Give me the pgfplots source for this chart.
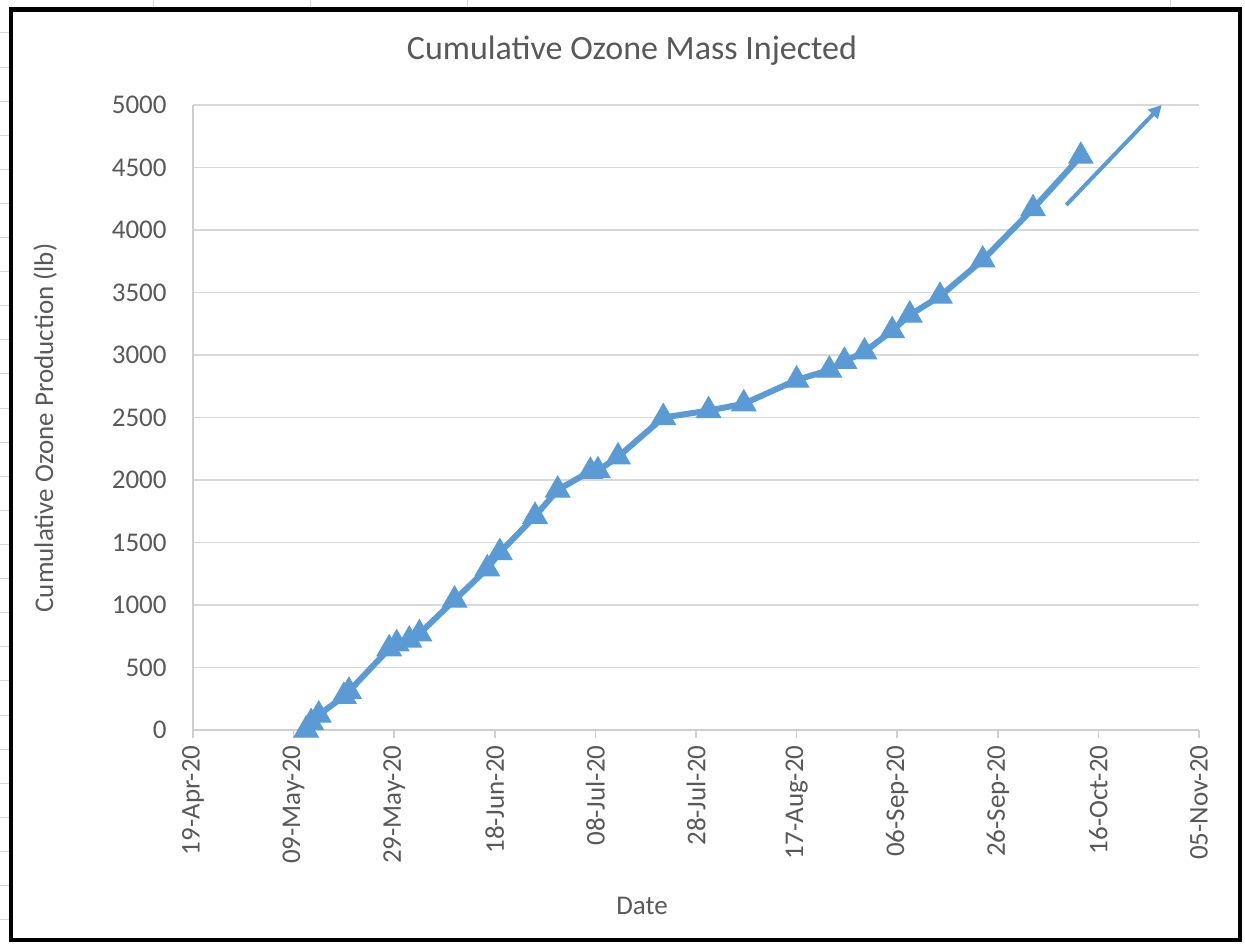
\documentclass[border=0pt]{standalone}
\usepackage{pgfplots}
\pgfplotsset{compat=1.18}
\usepackage{fontspec}
\setmainfont{Carlito}
\usetikzlibrary{arrows.meta}
\definecolor{xlblue}{HTML}{5B9BD5}
\definecolor{xltext}{HTML}{595959}
\definecolor{xlgrid}{HTML}{D9D9D9}
\definecolor{xlaxis}{HTML}{CFCFCF}
\definecolor{sheet}{HTML}{D6D6D6}
\begin{document}
\begin{tikzpicture}
\useasboundingbox (0pt,0pt) rectangle (622.5pt,471.5pt);
% spreadsheet cells outside the chart
\foreach \k in {0,...,26} {\draw[sheet, line width=0.5pt] (0pt,{(943-33-34.1*\k)/2*1pt}) -- (4.5pt,{(943-33-34.1*\k)/2*1pt});}
\foreach \xx in {76.5,155,233.5,585} {\draw[sheet, line width=0.5pt] (\xx pt,471.5pt) -- (\xx pt,466pt);}
% chart frame
\draw[black, line width=2.3pt] (5.4pt,1.6pt) rectangle (620pt,466.6pt);
\begin{axis}[
  at={(96.5pt,106.5pt)}, anchor=south west,
  scale only axis, width=503pt, height=312.5pt,
  xmin=0, xmax=200, ymin=0, ymax=5000,
  xtick={0,20,...,200},
  xticklabels={19-Apr-20,09-May-20,29-May-20,18-Jun-20,08-Jul-20,28-Jul-20,17-Aug-20,06-Sep-20,26-Sep-20,16-Oct-20,05-Nov-20},
  ytick={0,500,...,5000},
  axis x line*=bottom, axis y line*=left,
  axis line style={-, draw=xlaxis, line width=0.75pt},
  tick align=outside, major tick length=4pt,
  xtick style={draw=xlaxis, line width=0.75pt},
  ytick style={draw=none},
  ymajorgrids, major grid style={draw=xlgrid, line width=0.75pt},
  /pgf/number format/assume math mode=true,
  /pgf/number format/1000 sep={},
  ticklabel style={font=\fontsize{13.5}{16}\selectfont, text=xltext, inner sep=0pt},
  xticklabel style={rotate=90, anchor=east},
  xticklabel shift=3.5pt,
  yticklabel style={anchor=east},
  yticklabel shift=9pt,
  clip=false,
]
\addplot[xlblue, line width=3pt, mark=triangle*, mark size=7pt, mark options={solid, fill=xlblue, draw=xlblue, line width=0.5pt}] coordinates {
(22.5,0) (23.5,60) (25,120) (30,270) (31,310)
(39,650) (40.5,690) (43,720) (45,770)
(52,1040) (58.5,1290) (61,1420) (68,1710) (72.5,1920)
(79,2070) (80.5,2075) (84.5,2185)
(93.5,2500) (102.5,2555) (109.5,2610)
(120,2800) (126.5,2880) (129.5,2950) (133.5,3025)
(139,3195) (142.5,3320) (148.5,3470)
(157,3760) (167,4170) (176.5,4590)
};
\draw[xlblue, line width=2pt, -{Triangle[length=6.5pt,width=6.5pt]}] (axis cs:173.6,4200) -- (axis cs:192.6,5000);
\end{axis}
\node[text=xltext, font=\fontsize{17}{20}\selectfont] at (316pt,446pt) {Cumulative Ozone Mass Injected};
\node[text=xltext, font=\fontsize{13.5}{16}\selectfont] at (321pt,18.5pt) {Date};
\node[text=xltext, font=\fontsize{13.5}{16}\selectfont, rotate=90] at (22.5pt,257.5pt) {Cumulative Ozone Production (lb)};
\end{tikzpicture}
\end{document}
